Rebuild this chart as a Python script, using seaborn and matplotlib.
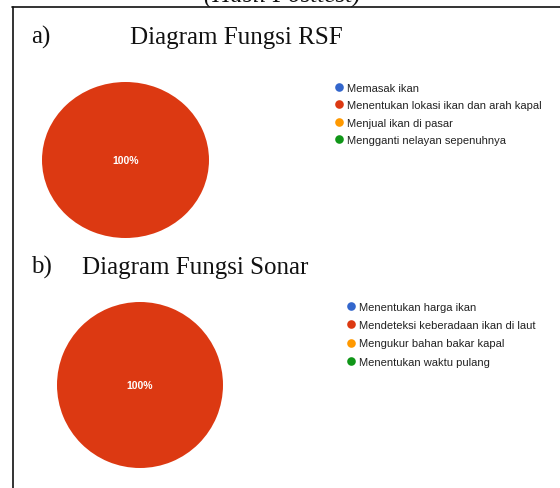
import matplotlib
matplotlib.use("Agg")
import matplotlib.pyplot as plt
from matplotlib.lines import Line2D
import seaborn as sns

# data
rsf_labels = ["Memasak ikan", "Menentukan lokasi ikan dan arah kapal",
              "Menjual ikan di pasar", "Mengganti nelayan sepenuhnya"]
rsf_values = [0, 100, 0, 0]
sonar_labels = ["Menentukan harga ikan", "Mendeteksi keberadaan ikan di laut",
                "Mengukur bahan bakar kapal", "Menentukan waktu pulang"]
sonar_values = [0, 100, 0, 0]
colors = ["#3366CC", "#DC3912", "#FF9900", "#109618"]

sns.set_theme(style="white")
plt.rcParams["font.family"] = ["Liberation Sans", "DejaVu Sans"]

W, H = 560, 489
fig = plt.figure(figsize=(W / 100, H / 100), dpi=100)
fig.patch.set_facecolor("white")


def px_axes(x0, y0, x1, y1):
    return fig.add_axes([x0 / W, 1 - y1 / H, (x1 - x0) / W, (y1 - y0) / H])


def fx(x):
    return x / W


def fy(y):
    return 1 - y / H


def draw_pie(box, values, labels, legend_xy, spacing):
    ax = px_axes(*box)
    ax.pie(values, colors=colors, startangle=90, counterclock=False,
           autopct=lambda p: "100%" if p > 99.5 else ("" if p == 0 else f"{p:.0f}%"),
           textprops={"color": "white", "fontsize": 7.5, "fontweight": "bold"},
           pctdistance=0.0, wedgeprops={"linewidth": 0})
    ax.set_xlim(-1, 1)
    ax.set_ylim(-1, 1)
    ax.set_aspect("auto")
    ax.axis("off")
    handles = [Line2D([], [], marker="o", linestyle="", markersize=6.2,
                      markerfacecolor=c, markeredgewidth=0) for c in colors]
    fig.legend(handles, labels, loc="upper left",
               bbox_to_anchor=(fx(legend_xy[0]), fy(legend_xy[1])),
               frameon=False, fontsize=8.0, handlelength=0.8, handletextpad=0.3,
               labelspacing=spacing, borderpad=0, borderaxespad=0,
               labelcolor="#222222")


draw_pie((42, 83, 209, 239), rsf_values, rsf_labels, (335, 84), 0.66)
draw_pie((57, 303, 223, 469), sonar_values, sonar_labels, (347, 303), 0.74)

serif = ["Liberation Serif", "DejaVu Serif"]
ink = "#111111"
fig.text(fx(31), fy(44), "a)", family=serif, fontsize=18, va="baseline", color=ink)
fig.text(fx(130), fy(44), "Diagram Fungsi RSF", family=serif, fontsize=18,
         va="baseline", color=ink)
fig.text(fx(31), fy(274), "b)", family=serif, fontsize=18, va="baseline", color=ink)
fig.text(fx(82), fy(274), "Diagram Fungsi Sonar", family=serif, fontsize=18,
         va="baseline", color=ink)
fig.text(fx(282), fy(3), "(Hasil Posttest)", family=serif, fontsize=18,
         style="italic", ha="center", va="baseline", color=ink)

# page border (left and top)
fig.add_artist(Line2D([fx(12.5), fx(12.5)], [fy(7.5), 0], color=ink, lw=1.2))
fig.add_artist(Line2D([fx(12), 1], [fy(7.5), fy(7.5)], color=ink, lw=1.2))

fig.savefig("out.png", dpi=100, facecolor="white")
